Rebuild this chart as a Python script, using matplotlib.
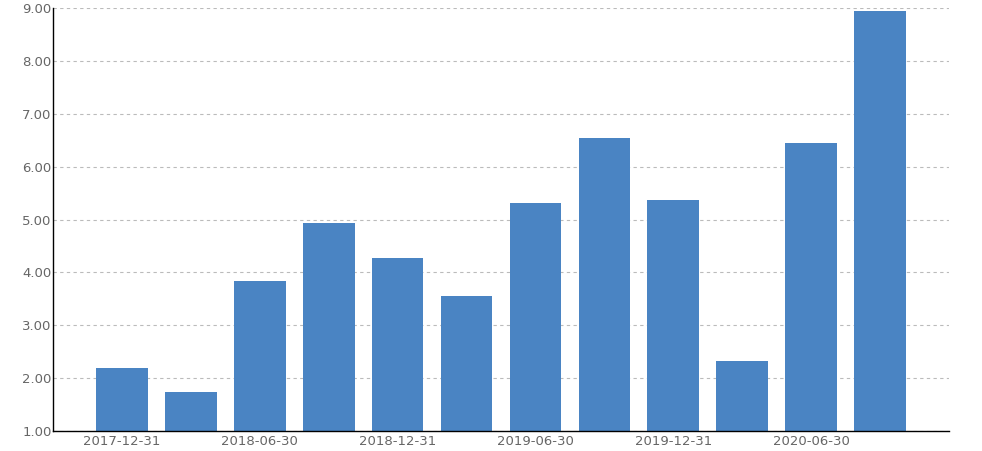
import matplotlib.pyplot as plt

dates = ['2017-12-31', '2018-03-31', '2018-06-30', '2018-09-30',
         '2018-12-31', '2019-03-31', '2019-06-30', '2019-09-30',
         '2019-12-31', '2020-03-31', '2020-06-30', '2020-09-30']
values = [2.19, 1.74, 3.84, 4.93, 4.27, 3.55, 5.31, 6.54, 5.37, 2.32, 6.45, 8.94]
y_ticks = [1, 2, 3, 4, 5, 6, 7, 8, 9]

bar_color = '#4a84c3'
text_color = '#666666'

fig = plt.figure(figsize=(9.82, 4.51), dpi=100)
ax = fig.add_axes([53 / 982, 20 / 451, 896 / 982, 423 / 451])

x = list(range(len(dates)))
ax.bar(x, values, width=0.75, color=bar_color, zorder=2)

ax.set_xlim(-1, len(dates))
ax.set_ylim(1, 9)
ax.set_yticks(y_ticks)
ax.set_yticklabels([f'{v:.2f}' for v in y_ticks])
ax.set_xticks(x[::2])
ax.set_xticklabels(dates[::2])

ax.grid(axis='y', color='#bbbbbb', linestyle=(0, (3, 3)), linewidth=0.8, zorder=0)

for side in ['top', 'right']:
    ax.spines[side].set_visible(False)
for side in ['left', 'bottom']:
    ax.spines[side].set_color('black')
    ax.spines[side].set_linewidth(1)

ax.tick_params(axis='both', length=0, labelsize=9.5, colors=text_color)
ax.tick_params(axis='y', pad=1)
ax.tick_params(axis='x', pad=3)

fig.savefig('out.png', dpi=100)
